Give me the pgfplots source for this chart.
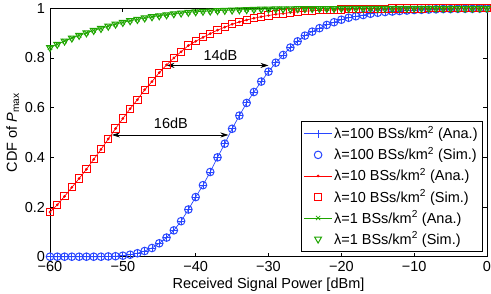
\documentclass[border=0pt]{standalone}
\usepackage{fontspec}
\setmainfont{Liberation Sans}
\usepackage{pgfplots}
\pgfplotsset{compat=1.18}
\usepackage{pgfplotstable}
\usetikzlibrary{arrows.meta}
\definecolor{mblue}{RGB}{40,70,255}
\definecolor{mred}{RGB}{255,0,0}
\definecolor{mgreen}{RGB}{30,165,0}

\pgfplotstableread{
x blue red green
-60 0.000 0.179 0.842
-59 0.000 0.209 0.855
-58 0.000 0.243 0.868
-57 0.000 0.279 0.880
-56 0.000 0.315 0.891
-55 0.000 0.352 0.901
-54 0.000 0.392 0.911
-53 0.000 0.432 0.919
-52 0.001 0.474 0.928
-51 0.002 0.516 0.936
-50 0.004 0.556 0.943
-49 0.008 0.596 0.950
-48 0.014 0.632 0.955
-47 0.023 0.672 0.961
-46 0.035 0.705 0.966
-45 0.054 0.741 0.970
-44 0.077 0.772 0.974
-43 0.106 0.800 0.978
-42 0.143 0.825 0.981
-41 0.190 0.850 0.984
-40 0.240 0.867 0.986
-39 0.288 0.883 0.988
-38 0.341 0.898 0.989
-37 0.400 0.912 0.991
-36 0.455 0.924 0.992
-35 0.515 0.936 0.993
-34 0.568 0.945 0.994
-33 0.619 0.953 0.995
-32 0.663 0.960 0.996
-31 0.705 0.966 0.997
-30 0.745 0.971 0.997
-29 0.781 0.976 0.998
-28 0.812 0.979 0.998
-27 0.842 0.983 0.998
-26 0.867 0.986 0.999
-25 0.890 0.988 0.999
-24 0.906 0.990 0.999
-23 0.920 0.992 0.999
-22 0.933 0.993 0.999
-21 0.944 0.994 0.999
-20 0.954 0.995 1.000
-19 0.962 0.996 1.000
-18 0.968 0.997 1.000
-17 0.973 0.997 1.000
-16 0.978 0.998 1.000
-15 0.982 0.998 1.000
-14 0.985 0.998 1.000
-13 0.987 0.999 1.000
-12 0.989 0.999 1.000
-11 0.991 0.999 1.000
-10 0.993 0.999 1.000
-9 0.994 0.999 1.000
-8 0.995 1.000 1.000
-7 0.996 1.000 1.000
-6 0.997 1.000 1.000
-5 0.997 1.000 1.000
-4 0.998 1.000 1.000
-3 0.998 1.000 1.000
-2 0.998 1.000 1.000
-1 0.999 1.000 1.000
0 0.999 1.000 1.000
}\datatab

\begin{document}
\fontsize{14.5bp}{17bp}\selectfont
\begin{tikzpicture}
\begin{axis}[
  scale only axis, width=437bp, height=248.4bp,
  xmin=-60, xmax=0, ymin=0, ymax=1,
  xtick={-60,-50,-40,-30,-20,-10,0},
  xticklabels={−60,−50,−40,−30,−20,−10,0},
  ytick={0,0.2,0.4,0.6,0.8,1},
  yticklabels={0,0.2,0.4,0.6,0.8,1},
  tick align=inside, tick pos=both,
  major tick length=4bp,
  axis line style={line width=0.8bp},
  every tick/.style={black, line width=0.8bp},
  tick label style={font=\fontsize{14.5bp}{17bp}\selectfont},
  label style={font=\fontsize{14.5bp}{17bp}\selectfont},
  xlabel={Received Signal Power [dBm]},
  ylabel={CDF of \textit{P}\textsubscript{max}},
  every axis x label/.style={at={(axis description cs:0.5,-0.114)}, anchor=center},
  every axis y label/.style={at={(axis description cs:-0.085,0.5)}, anchor=center, rotate=90},
  clip=false,
  legend style={at={(0.9908,0.0201)}, anchor=south east, font=\fontsize{14.5bp}{17bp}\selectfont,
    draw=black, line width=0.8bp, inner xsep=3bp, inner ysep=3bp, row sep=2.6bp,
    cells={anchor=west}},
  legend image code/.code={\draw[mark repeat=2,mark phase=2,#1] plot coordinates {(0cm,0cm) (0.48cm,0cm) (0.96cm,0cm)};},
]
\addplot[mblue, line width=0.7bp, mark=+, mark size=3.8bp, mark options={line width=0.9bp}] table[x=x,y=blue]{\datatab};
\addlegendentry{λ=100 BSs/km\textsuperscript{2} (Ana.)}
\addplot[mblue, only marks, mark=o, mark size=3.8bp, mark options={line width=1bp}] table[x=x,y=blue]{\datatab};
\addlegendentry{λ=100 BSs/km\textsuperscript{2} (Sim.)}
\addplot[mred, line width=0.7bp, mark=*, mark size=1bp] table[x=x,y=red]{\datatab};
\addlegendentry{λ=10 BSs/km\textsuperscript{2} (Ana.)}
\addplot[mred, only marks, mark=square, mark size=3.6bp, mark options={line width=1bp}] table[x=x,y=red]{\datatab};
\addlegendentry{λ=10 BSs/km\textsuperscript{2} (Sim.)}
\addplot[mgreen, line width=0.7bp, mark=x, mark size=3bp, mark options={line width=0.8bp}] table[x=x,y=green]{\datatab};
\addlegendentry{λ=1 BSs/km\textsuperscript{2} (Ana.)}
\addplot[mgreen, only marks, mark=triangle, mark size=4bp, mark options={rotate=180, line width=1bp}] table[x=x,y=green]{\datatab};
\addlegendentry{λ=1 BSs/km\textsuperscript{2} (Sim.)}
\draw[{Stealth[length=8bp,width=5bp]}-{Stealth[length=8bp,width=5bp]}, line width=0.7bp] (axis cs:-44,0.77) -- (axis cs:-30,0.77);
\node[font=\fontsize{14.5bp}{17bp}\selectfont] at (axis cs:-36.6,0.81) {14dB};
\draw[{Stealth[length=8bp,width=5bp]}-{Stealth[length=8bp,width=5bp]}, line width=0.7bp] (axis cs:-51.5,0.49) -- (axis cs:-35.5,0.49);
\node[font=\fontsize{14.5bp}{17bp}\selectfont] at (axis cs:-43.4,0.535) {16dB};
\coordinate (bl) at (rel axis cs:0,0);
\coordinate (tr) at (rel axis cs:1,1);
\end{axis}
\pgfresetboundingbox
\path[use as bounding box] ([xshift=-50bp,yshift=-37.3bp]bl) rectangle ([xshift=4bp,yshift=8.3bp]tr);
\end{tikzpicture}
\end{document}
